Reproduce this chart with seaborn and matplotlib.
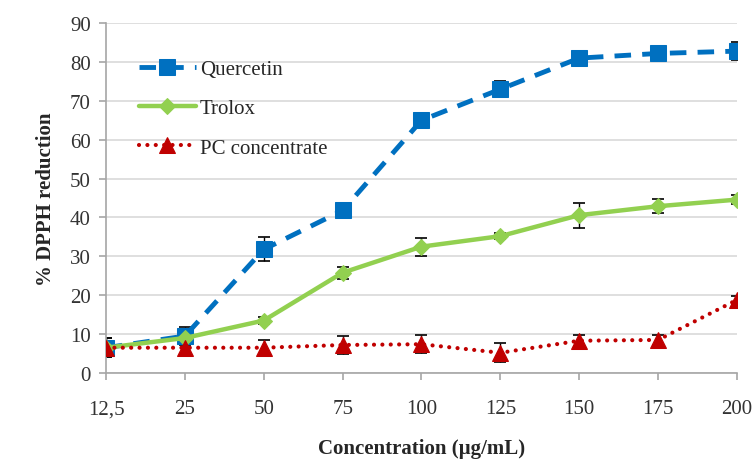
import pandas as pd
import matplotlib
matplotlib.use("Agg")
import matplotlib.pyplot as plt
import seaborn as sns

# data
concentrations = ["12,5", "25", "50", "75", "100", "125", "150", "175", "200"]
quercetin = [6.5, 9.5, 31.8, 41.8, 65.0, 73.0, 81.0, 82.2, 82.8]
quercetin_err = [2.5, 2.4, 3.1, 0.8, 1.0, 2.0, 0.8, 0.8, 2.4]
trolox = [6.5, 9.0, 13.5, 25.8, 32.5, 35.2, 40.6, 42.9, 44.6]
trolox_err = [0.8, 0.8, 0.8, 1.5, 2.3, 0.8, 3.2, 1.8, 1.2]
pc = [6.5, 6.5, 6.5, 7.2, 7.4, 5.2, 8.3, 8.5, 18.8]
pc_err = [2.5, 2.1, 2.0, 2.2, 2.3, 2.5, 1.4, 1.2, 1.0]

df = pd.DataFrame({
    "conc": concentrations * 3,
    "value": quercetin + trolox + pc,
    "err": quercetin_err + trolox_err + pc_err,
    "series": ["Quercetin"] * 9 + ["Trolox"] * 9 + ["PC concentrate"] * 9,
})

sns.set_style("white")
plt.rcParams["font.family"] = ["Liberation Serif", "DejaVu Serif"]

fig, ax = plt.subplots(figsize=(7.52, 4.64), dpi=100)

colors = {"Quercetin": "#0070C0", "Trolox": "#92D050", "PC concentrate": "#C00000"}
markers = {"Quercetin": "s", "Trolox": "D", "PC concentrate": "^"}
sizes = {"Quercetin": 11, "Trolox": 8, "PC concentrate": 11}
widths = {"Quercetin": 3.5, "Trolox": 3.2, "PC concentrate": 3.0}

x = list(range(len(concentrations)))
for name in ["Quercetin", "Trolox", "PC concentrate"]:
    sub = df[df["series"] == name]
    ax.errorbar(x, sub["value"], yerr=sub["err"], fmt="none", ecolor="black",
                elinewidth=1.0, capsize=4, capthick=1.2, zorder=2)
    sns.lineplot(x=x, y=sub["value"].values, ax=ax, color=colors[name],
                 marker=markers[name], markersize=sizes[name],
                 markeredgecolor=colors[name], linewidth=widths[name],
                 label=name, zorder=3)
    l = ax.get_lines()[-1]
    if name == "Quercetin":
        l.set_dashes((3.4, 2.3))
    elif name == "PC concentrate":
        l.set_dashes((0.01, 2.0))
        l.set_dash_capstyle("round")

ax.set_xlim(0, 8)
ax.set_ylim(0, 90)
ax.set_yticks(range(0, 91, 10))
ax.set_xticks(x)
ax.set_xticklabels(concentrations)
ax.yaxis.grid(True, color="#D9D9D9", linewidth=1.2)
ax.set_axisbelow(True)
for s in ["top", "right"]:
    ax.spines[s].set_visible(False)
ax.spines["left"].set_color("#A6A6A6")
ax.spines["bottom"].set_color("#A6A6A6")
ax.spines["left"].set_linewidth(1.2)
ax.spines["bottom"].set_linewidth(1.2)
ax.tick_params(axis="both", labelsize=15, colors="#A6A6A6", labelcolor="#333333")
ax.tick_params(axis="x", length=5, pad=14, width=1.2, bottom=True)
ax.tick_params(axis="y", length=5, pad=6, width=1.2, left=True)
ax.set_xlabel("Concentration (µg/mL)", fontsize=15, fontweight="bold", labelpad=14)
ax.set_ylabel("% DPPH reduction", fontsize=15, fontweight="bold", labelpad=10)

leg = ax.legend(loc="upper left", frameon=False, fontsize=15, handlelength=2.75,
                bbox_to_anchor=(0.022, 0.95), labelspacing=0.95, handletextpad=0.2)

fig.subplots_adjust(left=0.141, right=0.98, top=0.948, bottom=0.194)
fig.savefig("out.png", dpi=100)
